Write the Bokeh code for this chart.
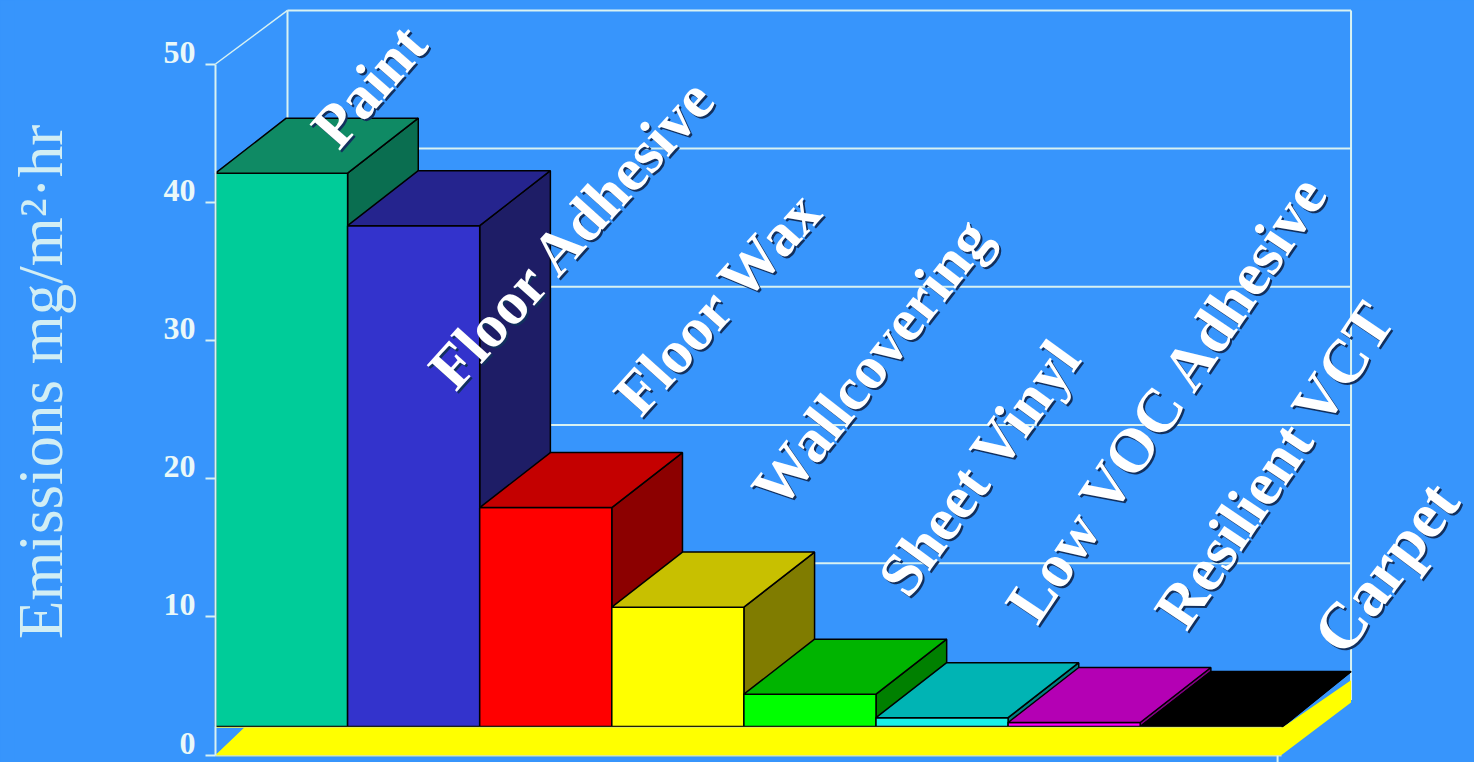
from bokeh.plotting import figure
from bokeh.models import FixedTicker, Range1d, ColumnDataSource
from bokeh.core.properties import value
from bokeh.embed import file_html
from bokeh.resources import INLINE

# ---- data ----
categories = ["Paint", "Floor Adhesive", "Floor Wax", "Wallcovering", "Sheet Vinyl",
              "Low VOC Adhesive", "Resilient VCT", "Carpet"]
emissions = [42.1, 38.3, 17.9, 10.7, 4.4, 2.7, 2.35, 2.06]
y_ticks = [0, 10, 20, 30, 40, 50]
y_title = "Emissions mg/m\u00b2\u00b7hr"

# ---- style ----
BG = "#3795FC"
LINE = "#D8F2F2"
SERIF = value("Liberation Serif")
front = ["#00CC99", "#3333CC", "#FF0000", "#FFFF00", "#00FF00", "#19F0E8", "#FF00FF", "#000000"]
top_c = ["#0F8A64", "#25248E", "#C40000", "#C8C000", "#00B400", "#00B4B4", "#B400B4", "#000000"]
side_c = ["#0A6E50", "#1E1D66", "#8C0000", "#807C00", "#008000", "#008080", "#800080", "#000000"]
base = 2.06      # bars stand on the slab
ddx, ddy = 0.535, 3.98   # oblique depth of the 3-D box
last_extra = 0.08
W, H = 1474, 762
LEFT = 14
PX_X, PX_Y = 132.1, 13.82
ZERO_PX = 754.5
x0 = (LEFT - 215) / PX_X
ax_x = 0

p = figure(width=W, height=H, output_backend="svg", toolbar_location=None,
           x_range=Range1d(x0, x0 + (W - LEFT) / PX_X),
           y_range=Range1d((ZERO_PX - H) / PX_Y, ZERO_PX / PX_Y),
           min_border_left=LEFT, min_border_right=0, min_border_top=0, min_border_bottom=0,
           x_axis_location=None, background_fill_color=BG, border_fill_color=BG)
p.outline_line_color = None
p.grid.visible = False

n = len(categories)
wall_r = 8.596
wall_x = [ddx + 0.01] * 5
grid_vals = y_ticks[1:]
# back wall
p.segment(x0=wall_x, x1=[wall_r] * 5, y0=[v + ddy - 0.1 for v in grid_vals], y1=[v + ddy - 0.1 for v in grid_vals],
          line_color=LINE, line_width=2)
p.line([wall_x[0], wall_x[0]], [50 + ddy - 0.1, ddy], line_color=LINE, line_width=2)
p.line([wall_r, wall_r], [50 + ddy - 0.1, ddy], line_color=LINE, line_width=2)
p.line([ax_x, wall_x[0]], [50, 50 + ddy - 0.1], line_color=LINE, line_width=1.5)

# bars, left to right
for i in range(n):
    l, r = i, i + 1 + (last_extra if i == n - 1 else 0)
    v = emissions[i]
    rd = min(r + ddx, wall_r)
    p.patch([r, rd, rd, r], [v, v + ddy, base + ddy, base],
            fill_color=side_c[i], line_color="#000000", line_width=1.5)
    p.quad(left=[l], right=[r], bottom=[base], top=[v], fill_color=front[i],
           line_color="#000000", line_width=1.5)
    p.patch([l, r, rd, l + ddx], [v, v, v + ddy, v + ddy],
            fill_color=top_c[i], line_color="#000000", line_width=1.5)

# floor slab
right = 8 + last_extra
p.patch([0, right - 0.01, wall_r, wall_r, right, 0.22],
        [0, 0, 3.8, 5.4, base - 0.06, base - 0.06],
        fill_color="#FFFF00", line_color=None)
p.line([ax_x, right - 0.01], [base - 0.06, base - 0.06], line_color="#E6F060", line_width=1)
p.line([0, right - 0.01], [-0.05, -0.05], line_color="#D8E8A0", line_width=1.5)
p.line([8.04, 8.04], [-0.05, -0.6], line_color=LINE, line_width=2)

# value axis, set inside the frame at the chart's left edge
ax = p.yaxis[0]
ax.fixed_location = ax_x
ax.ticker = FixedTicker(ticks=y_ticks)
ax.bounds = (0, 50)
ax.axis_line_color = LINE
ax.axis_line_width = 2
ax.major_tick_line_color = LINE
ax.major_tick_line_width = 2
ax.major_tick_in = 0
ax.major_tick_out = 10
ax.minor_tick_line_color = None
ax.major_label_overrides = {t: "" for t in y_ticks}
ax.major_label_standoff = 0

# tick labels sit a little above their ticks, as in the source picture
p.text(x=[ax_x] * len(y_ticks), y=y_ticks, text=[str(t) for t in y_ticks], x_offset=-20, y_offset=-12,
       text_align="right", text_baseline="middle", text_color="#EAF8F8",
       text_font=SERIF, text_font_style="bold", text_font_size="32px")

# axis title
p.text(x=[ax_x], y=[27], text=[y_title], angle=90, angle_units="deg", x_offset=-175,
       text_align="center", text_baseline="alphabetic", text_color="#D2EEF4",
       text_font=SERIF, text_font_size="63px")

# category labels
lab_dx = [108, 93, 146, 153, 148, 144, 161, 187]
lab_dy = [-617, -376, -350, -256, -167, -140, -134, -110]
lab_angle = [49, 48, 48, 52, 54, 56, 56, 53]
lab_size = ["61px", "61px", "61px", "61px", "61px", "62px", "62px", "65px"]
xs = list(range(n))
ys = [0] * n
for col, off in (("#12305E", 2), ("#FFFFFF", 0)):
    src = ColumnDataSource(dict(x=xs, y=ys, t=categories, a=lab_angle, fs=lab_size,
                                xo=[d + off for d in lab_dx], yo=[d + off for d in lab_dy]))
    p.text(x="x", y="y", text="t", angle="a", angle_units="deg", x_offset="xo", y_offset="yo",
           text_font_size="fs", text_font=SERIF, text_font_style="bold",
           text_color=col, text_align="left", text_baseline="alphabetic", source=src)

html = file_html(p, INLINE)
html = html.replace("<head>", "<head><style>html,body{margin:0;padding:0;background:%s;overflow:hidden}</style>" % BG, 1)
open("out.html", "w").write(html)
